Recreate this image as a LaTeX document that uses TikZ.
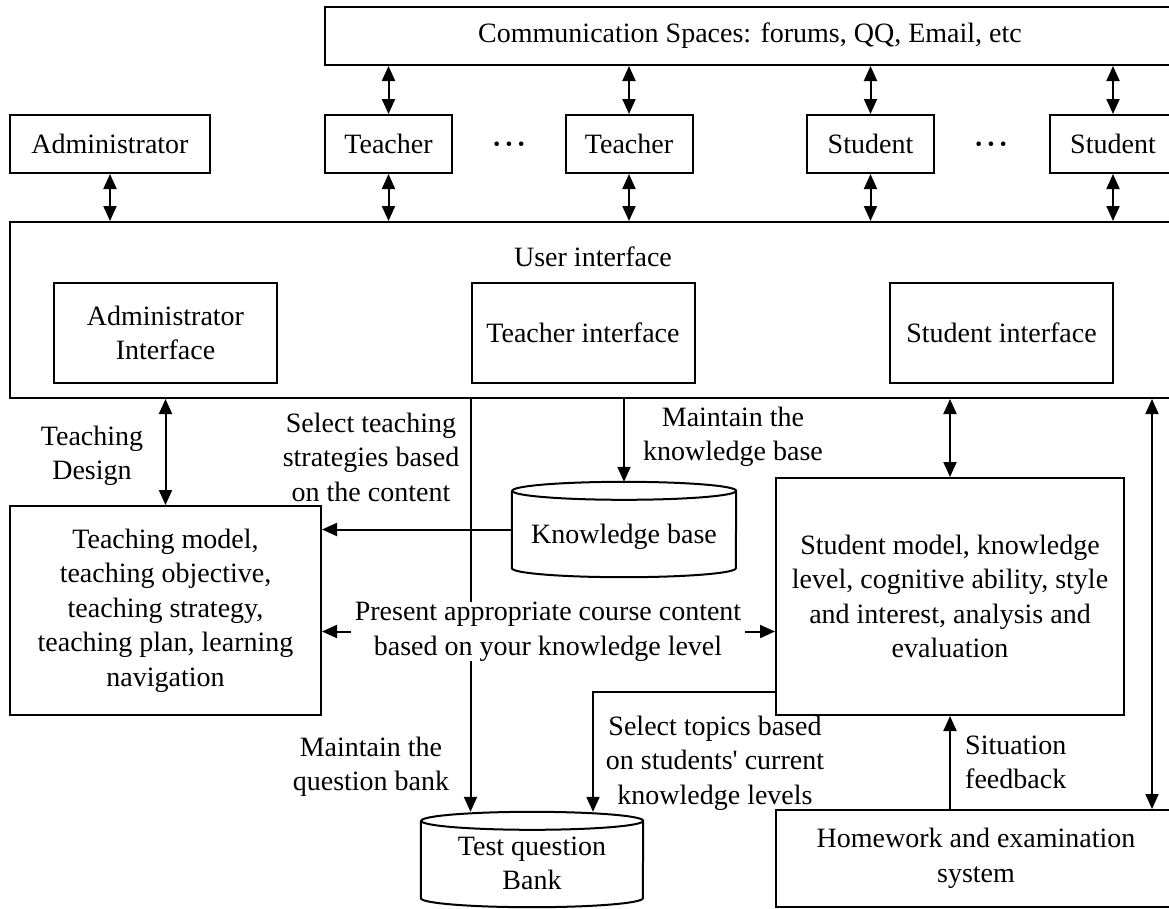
\documentclass[tikz,border=0pt]{standalone}
\usepackage{fontspec}
\setmainfont{Liberation Serif}
\usetikzlibrary{arrows.meta}
\newcommand\cylback[3]{%
  \draw[line width=2pt] ([yshift=-#3]#1.north west) -- ([yshift=#3]#1.south west)
    arc[start angle=180,end angle=360,x radius=#2,y radius=#3]
    -- ([yshift=-#3]#1.north east)
    arc[start angle=0,end angle=360,x radius=#2,y radius=#3];}
\newcommand\mydots{\textbf{\char"B7\kern3pt\char"B7\kern3pt\char"B7}}
\begin{document}
\begin{tikzpicture}[x=1pt,y=-1pt,
  font=\fontsize{28}{34.5}\selectfont,
  box/.style={draw, line width=2pt, align=center, inner sep=0pt},
  lbl/.style={align=center, inner sep=0pt},
  tip/.tip={Triangle[length=15pt,width=13pt]},
  arr/.style={line width=2pt, -tip},
  darr/.style={line width=2pt, tip-tip},
  ln/.style={line width=2pt}]
\useasboundingbox (0,0) rectangle (1169,908);
\clip (0,0) rectangle (1169,908);

% top row
\node[box, minimum width=850pt, minimum height=58pt] (comm) at (750,36) {Communication Spaces: forums, QQ, Email, etc};
\node[box, minimum width=200pt, minimum height=58pt] (adm) at (110,144) {Administrator};
\node[box, minimum width=127pt, minimum height=58pt] (t1) at (388.5,144) {Teacher};
\node[box, minimum width=127pt, minimum height=58pt] (t2) at (629,144) {Teacher};
\node[box, minimum width=127pt, minimum height=58pt] (s1) at (870.5,144) {Student};
\node[box, minimum width=127pt, minimum height=58pt] (s2) at (1113,144) {Student};
\node[inner sep=0pt] (d1) at (509,148) {\mydots};
\node[inner sep=0pt] (d2) at (991,148) {\mydots};

% user interface
\node[box, minimum width=1166pt, minimum height=176pt] (ui) at (593,310) {};
\node[lbl] (uil) at (593,257) {User interface};
\node[box, minimum width=223pt, minimum height=100pt] (ai) at (165.5,333) {Administrator\\Interface};
\node[box, minimum width=223pt, minimum height=100pt] (ti) at (583,333) {Teacher interface};
\node[box, minimum width=223pt, minimum height=100pt] (si) at (1001.5,333) {Student interface};

% arrows top
\foreach \n in {t1,t2,s1,s2}{
  \draw[darr] (\n.north) -- (\n.north |- comm.south);
}
\foreach \n in {adm,t1,t2,s1,s2}{
  \draw[darr] (\n.south) -- (\n.south |- ui.north);
}

% lower blocks
\node[box, minimum width=311pt, minimum height=209pt] (tm) at (165.5,610.5) {Teaching model,\\teaching objective,\\teaching strategy,\\teaching plan, learning\\navigation};
\node[box, minimum width=348pt, minimum height=237pt] (sm) at (950,596.5) {Student model, knowledge\\level, cognitive ability, style\\and interest, analysis and\\evaluation};
\node[box, minimum width=400pt, minimum height=97pt] (hw) at (976,858.5) {Homework and examination\\system};

\node[lbl, minimum width=224pt, minimum height=95pt] (kb) at (624,529.5) {\raisebox{-7pt}[\height][\depth]{Knowledge base}};
\cylback{kb}{112pt}{9pt}
\node[lbl, minimum width=222pt, minimum height=95pt] (tq) at (532,859.5) {\raisebox{-6pt}[\height][\depth]{\begin{tabular}{@{}c@{}}Test question\\Bank\end{tabular}}};
\cylback{tq}{111pt}{9pt}

% labels
\node[lbl] (tdl) at (92,456) {Teaching\\Design};
\node[lbl] (stl) at (371,457) {Select teaching\\strategies based\\on the content};
\node[lbl] (mkl) at (733,437) {Maintain the\\knowledge base};
\node[lbl] (mql) at (371,767) {Maintain the\\question bank};
\node[lbl] (tpl) at (715,763) {Select topics based\\on students\textquotesingle{} current\\knowledge levels};
\node[lbl, align=left, anchor=west] (sfl) at (965,762.5) {Situation\\feedback};

% connectors
\draw[darr] (tm.north) -- (tm.north |- ui.south);
\draw[arr] (kb.north |- ui.south) -- (kb.north);
\draw[arr] (kb.west) -- (kb.west -| tm.east);
\draw[arr] (ti.west |- ui.south) -- (ti.west |- tq.north);
\node[lbl, fill=white, inner xsep=4pt] (pl) at (548,631.5) {Present appropriate course content\\based on your knowledge level};
\draw[arr] (pl.west) -- (pl.west -| tm.east);
\draw[arr] (pl.east) -- (pl.east -| sm.west);
\draw[darr] (sm.north) -- (sm.north |- ui.south);
\coordinate (rx) at (1152,0);
\draw[darr] (rx |- ui.south) -- (rx |- hw.north);
\coordinate (ty) at (593,692);
\draw[arr] (sm.west |- ty) -| (ty |- tq.north);
\draw[arr] (sm.south |- hw.north) -- (sm.south);
\end{tikzpicture}
\end{document}
